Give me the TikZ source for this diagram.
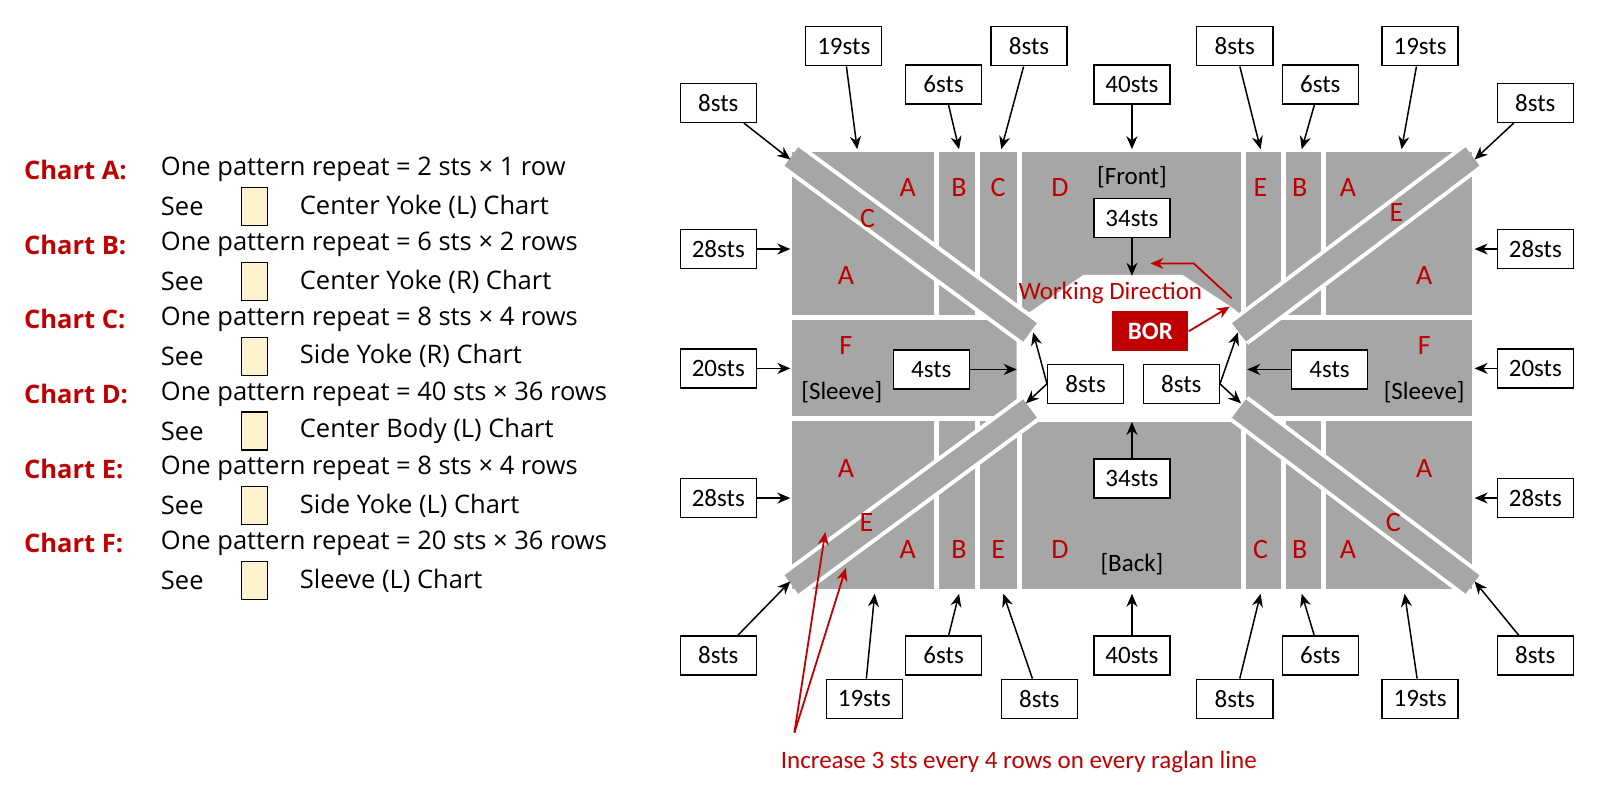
\documentclass[tikz,border=0pt]{standalone}
\usepackage{fontspec}
\setmainfont{Carlito}
\newfontfamily\legfont{Open Sans}
\usetikzlibrary{arrows.meta}
\definecolor{knitred}{RGB}{192,0,0}
\definecolor{knitgray}{RGB}{166,166,166}
\definecolor{chartbox}{RGB}{255,242,204}
\tikzset{
  sts/.style={draw,line width=1.3pt,fill=white,minimum width=76pt,minimum height=39pt,inner sep=1pt,font=\fontsize{25}{28}\selectfont},
  lt/.style={text=knitred,font=\fontsize{28}{32}\selectfont},
  tag/.style={font=\fontsize{25}{28}\selectfont},
  arr/.style={line width=1.5pt,-{Stealth[length=13pt,width=11pt]}},
  rarr/.style={line width=1.8pt,knitred,-{Stealth[length=13pt,width=11pt]}},
  sep/.style={white,line width=5pt},
  band/.style={knitgray,line width=23pt},
  bandedge/.style={white,line width=31pt},
  leg/.style={anchor=west,font=\legfont\fontsize{25.5}{28}\selectfont},
  chart/.style={anchor=west,text=knitred,font=\legfont\bfseries\fontsize{25.5}{28}\selectfont},
}
\begin{document}
\begin{tikzpicture}[x=1.029pt,y=-1.029pt]
\useasboundingbox (0,0) rectangle (1567.5,771.6);

% legend
\foreach \ch/\rep/\name [count=\i from 0] in {A/2 sts × 1 row/Center Yoke (L) Chart,
  B/6 sts × 2 rows/Center Yoke (R) Chart, C/8 sts × 4 rows/Side Yoke (R) Chart,
  D/40 sts × 36 rows/Center Body (L) Chart, E/8 sts × 4 rows/Side Yoke (L) Chart,
  F/20 sts × 36 rows/Sleeve (L) Chart}{
  \node[chart] (ch\ch) at (20,165+72.6*\i) {Chart \ch:};
  \node[leg] (rep\ch) at (153,165+72.6*\i) {One pattern repeat = \rep};
  \node[leg] (see\ch) at (153,201+72.6*\i) {See};
  \node[draw,line width=1.2pt,fill=chartbox,minimum width=26pt,minimum height=38pt] (box\ch) at (247,201+72.6*\i) {};
  \node[leg] (nm\ch) at (288,201+72.6*\i) {\name};
}

% body
\fill[knitgray] (770,148) rectangle (1430,572);
\draw[sep] (910,148) -- (910,309) (910,407) -- (910,572);
\draw[sep] (950,148) -- (950,309) (950,407) -- (950,572);
\draw[sep] (1247,148) -- (1247,309) (1247,407) -- (1247,572);
\draw[sep] (1286,148) -- (1286,309) (1286,407) -- (1286,572);
\draw[sep] (991,148) -- (991,572);
\draw[sep] (1208,148) -- (1208,572);
\draw[sep] (770,308.5) -- (1430,308.5);
\draw[sep] (770,407) -- (1430,407);
\fill[white] (988,311) -- (1004,301) -- (1053,267) -- (1149,267) -- (1199,300) -- (1211,311)
  -- (1211,403) -- (1199,410) -- (1004,410) -- (988,403) -- cycle;

% raglan lines
\draw[bandedge] (769,152) -- (1001,323);
\draw[band] (769,152) -- (1001,323);
\draw[bandedge] (1431,152) -- (1204,323);
\draw[band] (1431,152) -- (1204,323);
\draw[bandedge] (769,568) -- (1001,397);
\draw[band] (769,568) -- (1001,397);
\draw[bandedge] (1431,568) -- (1204,397);
\draw[band] (1431,568) -- (1204,397);

% section letters
\foreach \l/\x/\y in {A/882/182,B/932/182,C/970/182,D/1030/182,E/1225/182,B/1263/182,A/1310/182,
  C/843/212,E/1357/207,A/822/268,A/1384/268,F/822/336,F/1384/336,A/822/455,A/1384/455,
  E/842/508,C/1354/508,A/882/534,B/932/534,E/970/534,D/1030/534,C/1225/534,B/1263/534,A/1310/534}
  \node[lt] at (\x,\y) {\l};
\node[tag] (front) at (1100,172) {[Front]};
\node[tag] (back) at (1100,548) {[Back]};
\node[tag] (slvL) at (818,381) {[Sleeve]};
\node[tag] (slvR) at (1384,381) {[Sleeve]};

% stitch counts
\node[sts] (tA) at (820,45) {19sts};
\node[sts] (tB) at (917,82) {6sts};
\node[sts] (tC) at (1000,45) {8sts};
\node[sts] (tD) at (1100,82) {40sts};
\node[sts] (tE) at (1200,45) {8sts};
\node[sts] (tF) at (1283,82) {6sts};
\node[sts] (tG) at (1380,45) {19sts};
\node[sts] (tL) at (698,100) {8sts};
\node[sts] (tR) at (1492,100) {8sts};
\node[sts] (sL1) at (698,242) {28sts};
\node[sts] (sR1) at (1492,242) {28sts};
\node[sts] (sL2) at (698,358) {20sts};
\node[sts] (sR2) at (1492,358) {20sts};
\node[sts] (sL3) at (698,484) {28sts};
\node[sts] (sR3) at (1492,484) {28sts};
\node[sts] (front34) at (1100,212) {34sts};
\node[sts] (back34) at (1100,465) {34sts};
\node[sts] (in4L) at (905,359) {4sts};
\node[sts] (in4R) at (1292,359) {4sts};
\node[sts] (in8L) at (1055,373) {8sts};
\node[sts] (in8R) at (1148,373) {8sts};
\node[fill=knitred,text=white,minimum width=76pt,minimum height=40pt,font=\fontsize{25}{28}\selectfont\bfseries] (bor) at (1118,322) {BOR};
\node[sts] (bL) at (698,637) {8sts};
\node[sts] (bA) at (840,679) {19sts};
\node[sts] (bB) at (917,637) {6sts};
\node[sts] (bC) at (1010,679) {8sts};
\node[sts] (bD) at (1100,637) {40sts};
\node[sts] (bE) at (1200,679) {8sts};
\node[sts] (bF) at (1283,637) {6sts};
\node[sts] (bG) at (1380,679) {19sts};
\node[sts] (bR) at (1492,637) {8sts};

% arrow targets
\foreach \n/\x/\y in {pA/833/145,pB/932/145,pC/973/145,pD/1100/145,pE/1225/145,pF/1265/145,pG/1362/145,
  pL/768/155,pR/1433/155,qL1/768/242,qR1/1433/242,qL2/768/358,qR2/1433/358,qL3/768/484,qR3/1433/484,
  pFr/1100/268,pBk/1100/410,p4L/988/359,p4R/1212/359,p8a/1004/323,p8b/997/392,p8c/1203/323,p8d/1206/392,
  rL/768/565,rA/850/577,rB/932/577,rC/975/577,rD/1100/577,rE/1225/577,rF/1265/577,rG/1365/577,rR/1433/565}
  \coordinate (\n) at (\x,\y);
\draw[arr] (tA) -- (pA);
\draw[arr] (tB) -- (pB);
\draw[arr] (tC) -- (pC);
\draw[arr] (tD) -- (pD);
\draw[arr] (tE) -- (pE);
\draw[arr] (tF) -- (pF);
\draw[arr] (tG) -- (pG);
\draw[arr] (tL) -- (pL);
\draw[arr] (tR) -- (pR);
\draw[arr] (sL1) -- (qL1);
\draw[arr] (sR1) -- (qR1);
\draw[arr] (sL2) -- (qL2);
\draw[arr] (sR2) -- (qR2);
\draw[arr] (sL3) -- (qL3);
\draw[arr] (sR3) -- (qR3);
\draw[arr] (front34) -- (pFr);
\draw[arr] (back34) -- (pBk);
\draw[arr] (in4L) -- (p4L);
\draw[arr] (in4R) -- (p4R);
\draw[arr] (in8L.west) -- (p8a);
\draw[arr] (in8L.west) -- (p8b);
\draw[arr] (in8R.east) -- (p8c);
\draw[arr] (in8R.east) -- (p8d);
\draw[arr] (bL) -- (rL);
\draw[arr] (bA) -- (rA);
\draw[arr] (bB) -- (rB);
\draw[arr] (bC) -- (rC);
\draw[arr] (bD) -- (rD);
\draw[arr] (bE) -- (rE);
\draw[arr] (bF) -- (rF);
\draw[arr] (bG) -- (rG);
\draw[arr] (bR) -- (rR);

% working direction
\node[tag,text=knitred] (wd) at (1079,285) {Working Direction};
\coordinate (wd1) at (1197,290);
\coordinate (wd2) at (1160,256);
\coordinate (wd3) at (1118,256);
\coordinate (borTip) at (1195,298);
\draw[rarr] (wd1) -- (wd2) -- (wd3);
\draw[rarr] (bor.east) -- (borTip);

% increase note
\node[tag,text=knitred] (inc) at (990,740) {Increase 3 sts every 4 rows on every raglan line};
\coordinate (incO) at (772,712);
\coordinate (incA) at (802,517);
\coordinate (incB) at (822,552);
\draw[rarr] (incO) -- (incA);
\draw[rarr] (incO) -- (incB);
\end{tikzpicture}
\end{document}
